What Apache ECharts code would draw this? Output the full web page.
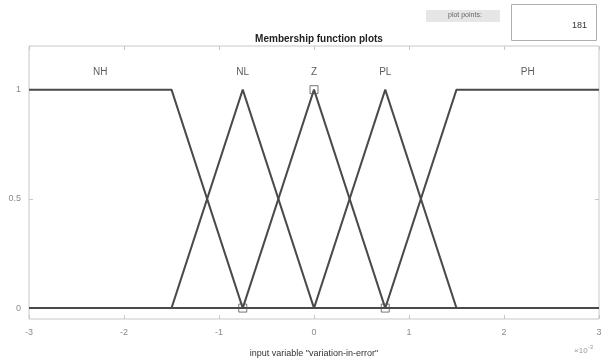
<!DOCTYPE html>
<html>
<head>
<meta charset="utf-8">
<script src="https://cdn.jsdelivr.net/npm/echarts@6/dist/echarts.min.js"></script>
<style>
  html, body { margin: 0; padding: 0; background: #fff; }
  #chart { width: 601px; height: 360px; }
</style>
</head>
<body>
<div id="chart"></div>
<script>
// Membership functions of the input "variation-in-error" (x in units of 1e-3)
const mfNames = ['NH', 'NL', 'Z', 'PL', 'PH'];
// Breakpoints [x, membership] of each function over the universe [-3, 3]
const mfNH = [[-3, 1], [-1.5, 1], [-0.75, 0], [3, 0]];
const mfNL = [[-3, 0], [-1.5, 0], [-0.75, 1], [0, 0], [3, 0]];
const mfZ  = [[-3, 0], [-0.75, 0], [0, 1], [0.75, 0], [3, 0]];
const mfPL = [[-3, 0], [0, 0], [0.75, 1], [1.5, 0], [3, 0]];
const mfPH = [[-3, 0], [0.75, 0], [1.5, 1], [3, 1]];
// Label position (x) for each function name
const mfLabelX = [-2.25, -0.75, 0, 0.75, 2.25];
// Handle points of the selected function (Z)
const selectedPoints = [[-0.75, 0], [0, 1], [0.75, 0]];
const xTicks = [-3, -2, -1, 0, 1, 2, 3];
const yTicks = [0, 0.5, 1];
const plotPoints = '181';

const lineColor = '#4a4a4a';
const frameColor = '#c8c8c8';
const tickLabelColor = '#8a8a8a';
const fontFam = 'Liberation Sans, Arial, sans-serif';

const mfData = [mfNH, mfNL, mfZ, mfPL, mfPH];

const series = mfData.map((d, i) => ({
  name: mfNames[i],
  type: 'line',
  data: d,
  symbol: 'none',
  lineStyle: { color: lineColor, width: 2 },
  silent: true,
  z: 3
}));

series.push({
  type: 'scatter',
  data: selectedPoints,
  symbol: 'rect',
  symbolSize: 8,
  itemStyle: { color: 'rgba(255,255,255,0)', borderColor: '#555', borderWidth: 1 },
  silent: true,
  z: 4
});

series.push({
  type: 'scatter',
  data: mfLabelX.map((x, i) => ({ value: [x, 1.08], name: mfNames[i] })),
  symbolSize: 0,
  label: {
    show: true,
    position: 'inside',
    formatter: p => p.name,
    color: '#333',
    fontSize: 10,
    fontFamily: fontFam
  },
  silent: true,
  z: 5
});

const chart = echarts.init(document.getElementById('chart'), null, { renderer: 'canvas' });
chart.setOption({
  animation: false,
  backgroundColor: '#fff',
  title: {
    text: 'Membership function plots',
    left: 314,
    top: 29,
    textAlign: 'center',
    textStyle: { fontSize: 10, fontWeight: 'bold', color: '#222', fontFamily: fontFam }
  },
  grid: {
    left: 29, right: 2, top: 46, bottom: 41,
    outerBoundsMode: 'none',
    containLabel: false,
    show: true, borderColor: frameColor, borderWidth: 1, backgroundColor: '#fff'
  },
  xAxis: [{
    type: 'value', min: -3, max: 3, interval: 1,
    name: 'input variable "variation-in-error"',
    nameLocation: 'middle', nameGap: 30,
    nameTextStyle: { fontSize: 9, color: '#333', fontFamily: fontFam },
    axisLine: { show: false, onZero: false },
    axisTick: { show: true, inside: true, length: 4, lineStyle: { color: frameColor } },
    axisLabel: {
      customValues: xTicks,
      color: tickLabelColor, fontSize: 9, margin: 9,
      fontFamily: fontFam
    },
    splitLine: { show: false }
  }, {
    type: 'value', min: -3, max: 3, interval: 1, position: 'top',
    axisLine: { show: false, onZero: false },
    axisTick: { show: true, inside: true, length: 4, lineStyle: { color: frameColor } },
    axisLabel: { show: false },
    splitLine: { show: false }
  }],
  yAxis: [{
    type: 'value', min: -0.05, max: 1.2,
    axisLine: { show: false, onZero: false },
    axisTick: { show: true, inside: true, length: 4, customValues: yTicks, lineStyle: { color: frameColor } },
    axisLabel: {
      customValues: yTicks,
      color: tickLabelColor, fontSize: 9, margin: 8,
      fontFamily: fontFam
    },
    splitLine: { show: false }
  }, {
    type: 'value', min: -0.05, max: 1.2, position: 'right',
    axisLine: { show: false, onZero: false },
    axisTick: { show: true, inside: true, length: 4, customValues: yTicks, lineStyle: { color: frameColor } },
    axisLabel: { show: false },
    splitLine: { show: false }
  }],
  series: series,
  graphic: [
    {
      type: 'rect', left: 426, top: 10,
      shape: { width: 74, height: 12 },
      style: { fill: '#e6e6e6', stroke: null }
    },
    {
      type: 'text', left: 448, top: 12,
      style: { text: 'plot points:', fontSize: 7, fill: '#666', fontFamily: fontFam }
    },
    {
      type: 'rect', left: 511, top: 4,
      shape: { width: 85, height: 36 },
      style: { fill: '#fff', stroke: '#b0b0b0', lineWidth: 1 }
    },
    {
      type: 'text', right: 14, top: 21,
      style: { text: plotPoints, fontSize: 9, fill: '#333', fontFamily: fontFam }
    },
    {
      type: 'text', right: 8, top: 344,
      style: {
        text: '{a|×10}{b|-3}',
        rich: {
          a: { fontSize: 8, fill: '#999', fontFamily: fontFam },
          b: { fontSize: 6, fill: '#999', padding: [0, 0, 7, 0], fontFamily: fontFam }
        }
      }
    }
  ]
});
</script>
</body>
</html>
